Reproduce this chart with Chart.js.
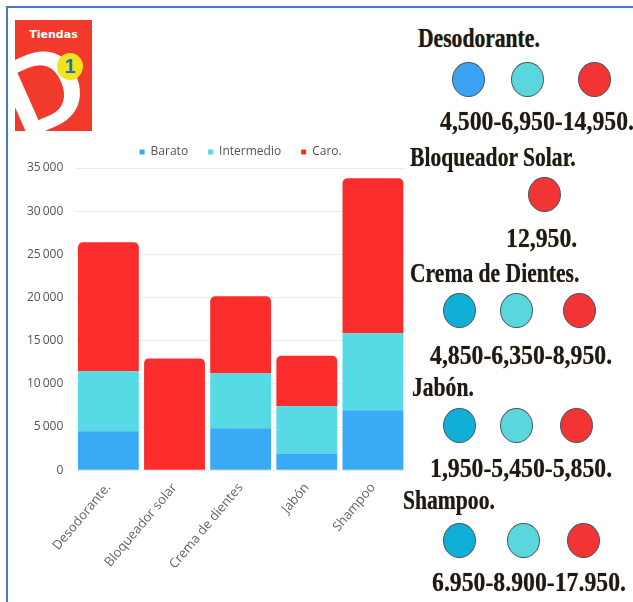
<!DOCTYPE html>
<html>
<head>
<meta charset="utf-8">
<script src="https://cdn.jsdelivr.net/npm/chart.js@4/dist/chart.umd.min.js"></script>
<style>
  html, body { margin:0; padding:0; width:633px; height:602px; overflow:hidden; background:#fff; }
  #frame { position:absolute; left:6px; top:6px; right:-10px; bottom:-10px; border-left:2px solid #4a76c8; border-top:2px solid #4a76c8; }
  #logo { position:absolute; left:15px; top:20px; width:77px; height:111px; background:#f23a2c; overflow:hidden; }
  #logo .t { position:absolute; left:0; width:77px; top:8px; text-align:center; color:#fff; font:bold 11px "DejaVu Sans", sans-serif; }
  #logo .d { position:absolute; left:-12px; top:14px; color:#fff; font:bold 112px "Liberation Sans", sans-serif; transform:rotate(-24deg); line-height:1; }
  #logo .one { position:absolute; left:42px; top:33px; width:26px; height:27px; border-radius:50%; background:#f6e21a; color:#1d6fc0; font:bold 20px "Liberation Sans", sans-serif; text-align:center; line-height:27px; }
  #chartbox { position:absolute; left:0px; top:126px; width:480px; height:448px; }
  .tx { position:absolute; font-family:"Liberation Serif", "Times New Roman", serif; font-weight:bold; font-size:27px; color:#1c1a18; white-space:nowrap; transform:scaleX(0.8); transform-origin:left center; line-height:27px; text-shadow:0 0 1px #8a6a40; }
  .tx.v { transform:scaleX(0.88); }
  .c { position:absolute; width:33px; height:35px; border-radius:50%; border:1px solid #4a5a60; box-sizing:border-box; }
</style>
</head>
<body>
<div id="frame"></div>
<div id="logo"><div class="t">Tiendas</div><div class="d">D</div><div class="one">1</div></div>
<div id="chartbox"><canvas id="chart"></canvas></div>
<div id="side"></div>
<script>
// ---- data ----
const categories = ["Desodorante.", "Bloqueador solar", "Crema de dientes", "Jabón", "Shampoo"];
const seriesNames = ["Barato", "Intermedio", "Caro."];
const barato = [4500, 0, 4850, 1950, 6950];
const intermedio = [6950, 0, 6350, 5450, 8900];
const caro = [14950, 12950, 8950, 5850, 17950];
const yTicks = [0, 5000, 10000, 15000, 20000, 25000, 30000, 35000];
const sideTitles = ["Desodorante.", "Bloqueador Solar.", "Crema de Dientes.", "Jabón.", "Shampoo."];
const sideValues = ["4,500-6,950-14,950.", "12,950.", "4,850-6,350-8,950.", "1,950-5,450-5,850.", "6.950-8.900-17.950."];

const colBarato = "rgb(56,170,246)";
const colInter = "rgb(86,218,228)";
const colCaro = "rgb(250,44,44)";

new Chart(document.getElementById("chart"), {
  type: "bar",
  data: {
    labels: categories,
    datasets: [
      { label: seriesNames[0], data: barato, backgroundColor: colBarato },
      { label: seriesNames[1], data: intermedio, backgroundColor: colInter },
      { label: seriesNames[2], data: caro, backgroundColor: colCaro, borderRadius: {topLeft:5, topRight:5, bottomLeft:0, bottomRight:0}, borderSkipped: "bottom" }
    ]
  },
  options: {
    responsive: true,
    maintainAspectRatio: false,
    animation: false,
    layout: { padding: { left: 15, right: 74, top: 0, bottom: 0 } },
    datasets: { bar: { categoryPercentage: 0.92, barPercentage: 1 } },
    plugins: {
      legend: {
        position: "top",
        fullSize: false,
        labels: { usePointStyle: true, pointStyle: "rect", boxWidth: 5, boxHeight: 5, padding: 20, color: "#555", font: { family: "Open Sans", size: 12 } }
      },
      tooltip: { enabled: false }
    },
    scales: {
      x: {
        stacked: true,
        grid: { display: false },
        border: { display: false },
        ticks: { color: "#666", font: { family: "Open Sans", size: 13 }, maxRotation: 50, minRotation: 50, padding: 2 }
      },
      y: {
        stacked: true,
        min: 0, max: 35000,
        afterBuildTicks: (s) => { s.ticks = yTicks.map(v => ({ value: v })); },
        grid: { color: "#ececec", drawTicks: false },
        border: { display: false },
        ticks: { color: "#555", padding: 12, font: { family: "Open Sans", size: 12 },
          callback: (v) => v >= 1000 ? Math.floor(v/1000) + "\u2009000" : String(v) }
      }
    }
  }
});

// ---- side panel ----
const side = document.getElementById("side");
const layout = [
  { tx: 418, ty: 25, cy: 62, cx: [452, 511, 578], vx: 440, vy: 108, cols: ["#3aa2f0", "#5ad6dd", "#f23434"] },
  { tx: 410, ty: 144, cy: 177, cx: [528], vx: 506, vy: 225, cols: ["#f23434"] },
  { tx: 410, ty: 260, cy: 293, cx: [443, 500, 563], vx: 430, vy: 342, cols: ["#10afd8", "#5ad6dd", "#f23434"] },
  { tx: 412, ty: 374, cy: 408, cx: [443, 500, 560], vx: 430, vy: 455, cols: ["#10afd8", "#5ad6dd", "#f23434"] },
  { tx: 403, ty: 487, cy: 523, cx: [443, 507, 567], vx: 432, vy: 569, cols: ["#10afd8", "#5ad6dd", "#f23434"] }
];
layout.forEach((L, i) => {
  const t = document.createElement("div"); t.className = "tx"; t.style.left = L.tx + "px"; t.style.top = L.ty + "px"; t.textContent = sideTitles[i]; side.appendChild(t);
  L.cx.forEach((x, j) => { const c = document.createElement("div"); c.className = "c"; c.style.left = x + "px"; c.style.top = L.cy + "px"; c.style.background = L.cols[j]; side.appendChild(c); });
  const v = document.createElement("div"); v.className = "tx v"; v.style.left = L.vx + "px"; v.style.top = L.vy + "px"; v.textContent = sideValues[i]; side.appendChild(v);
});
</script>
</body>
</html>
